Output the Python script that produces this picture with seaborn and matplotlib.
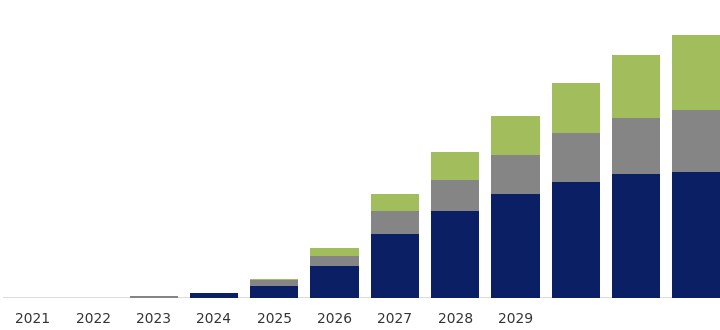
import matplotlib
matplotlib.use("Agg")
import matplotlib.pyplot as plt
import seaborn as sns
import pandas as pd

years = ["2021", "2022", "2023", "2024", "2025", "2026",
         "2027", "2028", "2029", "2030", "2031", "2032"]
tick_labels = ["2021", "2022", "2023", "2024", "2025", "2026",
               "2027", "2028", "2029", "", "", ""]
navy_vals = [0.0, 0.0, 0.2, 5, 12, 32, 64, 87, 104, 116, 124, 126]
gray_vals = [0.0, 0.0, 1.3, 0.0, 6, 10, 23, 31, 39, 49, 56, 62]
green_vals = [0.0, 0.0, 0.0, 0.0, 1, 8, 17, 28, 39, 50, 63, 75]

NAVY = "#0b1f64"
GRAY = "#858585"
GREEN = "#a2bd5b"

df = pd.DataFrame({"year": years, "navy": navy_vals,
                   "gray": gray_vals, "green": green_vals})
df["lvl2"] = df["navy"] + df["gray"]
df["lvl3"] = df["lvl2"] + df["green"]

sns.set_theme(style="white")
fig = plt.figure(figsize=(7.2, 3.3), dpi=100)
ax = fig.add_axes([0.004, 0.097, 1.005, 0.848])

# stacked bars: draw cumulative totals from the top layer down
sns.barplot(data=df, x="year", y="lvl3", order=years, color=GREEN,
            saturation=1, width=0.8, ax=ax)
sns.barplot(data=df, x="year", y="lvl2", order=years, color=GRAY,
            saturation=1, width=0.8, ax=ax)
sns.barplot(data=df, x="year", y="navy", order=years, color=NAVY,
            saturation=1, width=0.8, ax=ax)

for p in ax.patches:
    p.set_edgecolor("none")

ax.axhline(0, color="#d4d6da", lw=1.2, zorder=0)
ax.set_xlim(-0.5, len(years) - 0.5)
ax.set_ylim(0, 280)
ax.set_xlabel("")
ax.set_ylabel("")
ax.set_yticks([])
ax.set_xticks(range(len(years)))
ax.set_xticklabels(tick_labels, fontsize=10, color="#333333")
ax.tick_params(axis="x", length=0, pad=10)
for s in ax.spines.values():
    s.set_visible(False)

fig.savefig("out.png", dpi=100, facecolor="white")
